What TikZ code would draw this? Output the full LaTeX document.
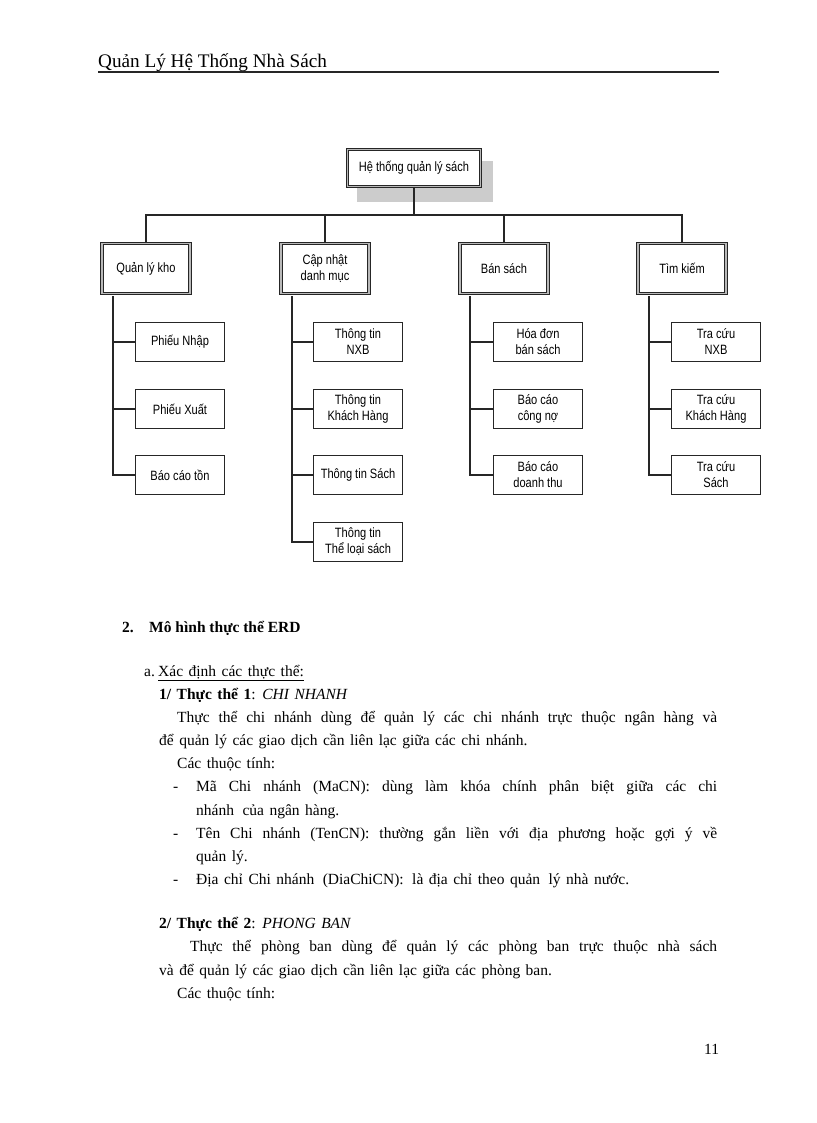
\documentclass[tikz,border=0pt]{standalone}
\usepackage{fontspec}
\setmainfont{Liberation Serif}
\newfontfamily\diagfont{Liberation Sans}[FakeStretch=0.82]
\usetikzlibrary{calc}
\newcommand{\dsp}{\hspace{3pt} }
\newcommand{\bodyfont}{\fontsize{15.5}{19}\selectfont\spaceskip=5.5pt plus 6pt minus 1pt\relax}
\newcommand{\diagtext}{\diagfont\fontsize{13.5}{16}\selectfont}
\begin{document}
\begin{tikzpicture}[x=1pt,y=-1pt,
 dblbox/.style={draw=black!85, line width=0.8pt, double=gray!55, double distance=1.6pt, fill=white, inner sep=0pt, align=center, font=\diagtext},
 rootbox/.style={dblbox, minimum width=133pt, minimum height=37pt},
 midbox/.style={dblbox, minimum width=88pt, minimum height=50pt},
 leafbox/.style={draw=black!85, line width=1.2pt, fill=white, minimum width=89pt, minimum height=39pt, inner sep=0pt, align=center, font=\diagtext},
 conn/.style={draw=black!85, line width=1.2pt},
 body/.style={anchor=base west, inner sep=0pt, font=\bodyfont},
 headtext/.style={anchor=base west, inner sep=0pt, font=\fontsize{15.5}{19}\selectfont\bfseries},
 hdr/.style={anchor=base west, inner sep=0pt, font=\fontsize{19.2}{22}\selectfont},
]
\useasboundingbox (0,0) rectangle (816,1123);
\fill[white] (0,0) rectangle (816,1123);

% header
\node[hdr] (hdr) at (98,68) {Quản Lý Hệ Thống Nhà Sách};
\coordinate (hl) at (98,72);
\coordinate (hr) at (719,72);
\draw[black!85, line width=1.2pt] (hl) -- (hr);

% root with shadow
\fill[gray!40] (357,161) rectangle (493,202);
\node[rootbox] (root) at (414,168) {Hệ thống quản lý sách};
\coordinate (bus) at (414,215);

% level 1
\node[midbox] (qlk) at (146,268.5) {Quản lý kho};
\node[midbox] (cn)  at (325,268.5) {Cập nhật\\danh mục};
\node[midbox] (bs)  at (504,268.5) {Bán sách};
\node[midbox] (tk)  at (682,268.5) {Tìm kiếm};

\draw[conn] (root.south) -- (bus);
\draw[conn] (qlk.north) |- (bus);
\draw[conn] (cn.north) |- (bus);
\draw[conn] (bs.north) |- (bus);
\draw[conn] (tk.north) |- (bus);

% leaves
\node[leafbox] (a1) at (180,342) {Phiếu Nhập};
\node[leafbox] (a2) at (180,409) {Phiếu Xuất};
\node[leafbox] (a3) at (180,475) {Báo cáo tồn};

\node[leafbox] (b1) at (358,342) {Thông tin\\NXB};
\node[leafbox] (b2) at (358,409) {Thông tin\\Khách Hàng};
\node[leafbox] (b3) at (358,475) {Thông tin Sách};
\node[leafbox] (b4) at (358,542) {Thông tin\\Thể loại sách};

\node[leafbox] (c1) at (538,342) {Hóa đơn\\bán sách};
\node[leafbox] (c2) at (538,409) {Báo cáo\\công nợ};
\node[leafbox] (c3) at (538,475) {Báo cáo\\doanh thu};

\node[leafbox] (d1) at (716,342) {Tra cứu\\NXB};
\node[leafbox] (d2) at (716,409) {Tra cứu\\Khách Hàng};
\node[leafbox] (d3) at (716,475) {Tra cứu\\Sách};

\coordinate (sa) at (113,296);
\coordinate (sb) at (292,296);
\coordinate (sc) at (470,296);
\coordinate (sd) at (649,296);

\foreach \n in {a1,a2,a3} \draw[conn] (\n.west) -| (sa);
\foreach \n in {b1,b2,b3,b4} \draw[conn] (\n.west) -| (sb);
\foreach \n in {c1,c2,c3} \draw[conn] (\n.west) -| (sc);
\foreach \n in {d1,d2,d3} \draw[conn] (\n.west) -| (sd);

% body text
\node[headtext] (s2n) at (122,632) {2.};
\node[headtext] (s2) at (149,632) {Mô hình thực thể ERD};

\node[body] (sa1) at (144,676) {a.};
\node[body] (sa2) at (158,676) {\underline{Xác định các thực thể:}};

\node[body] (e1) at (159,699) {\textbf{1/ Thực thể 1}: \textit{CHI NHANH}};
\node[body] (p1) at (177,722) {\hbox to 540pt{Thực thể chi nhánh dùng để quản lý các chi nhánh trực thuộc ngân hàng và}};
\node[body] (p2) at (159,745) {để quản lý các giao dịch cần liên lạc giữa các chi nhánh.};
\node[body] (p3) at (177,768) {Các thuộc tính:};

\node[body] (d1m) at (173,791) {-};
\node[body] (l1) at (196,791) {\hbox to 521pt{Mã Chi nhánh (MaCN): dùng làm khóa chính phân biệt giữa các chi}};
\node[body] (l1b) at (196,815) {nhánh\dsp của ngân hàng.};
\node[body] (d2m) at (173,838) {-};
\node[body] (l2) at (196,838) {\hbox to 521pt{Tên Chi nhánh (TenCN): thường gắn liền với địa phương hoặc gợi ý về}};
\node[body] (l2b) at (196,861) {quản lý.};
\node[body] (d3m) at (173,884) {-};
\node[body] (l3) at (196,884) {Địa chỉ Chi nhánh\dsp (DiaChiCN):\dsp là địa chỉ theo quản\dsp lý nhà nước.};

\node[body] (e2) at (159,928) {\textbf{2/ Thực thể 2}: \textit{PHONG BAN}};
\node[body] (q1) at (190,951) {\hbox to 527pt{Thực thể phòng ban dùng để quản lý các phòng ban trực thuộc nhà sách}};
\node[body] (q2) at (159,975) {và để quản lý các giao dịch cần liên lạc giữa các phòng ban.};
\node[body] (q3) at (177,998) {Các thuộc tính:};

\node[body] (pg) at (704,1054) {11};
\end{tikzpicture}
\end{document}
